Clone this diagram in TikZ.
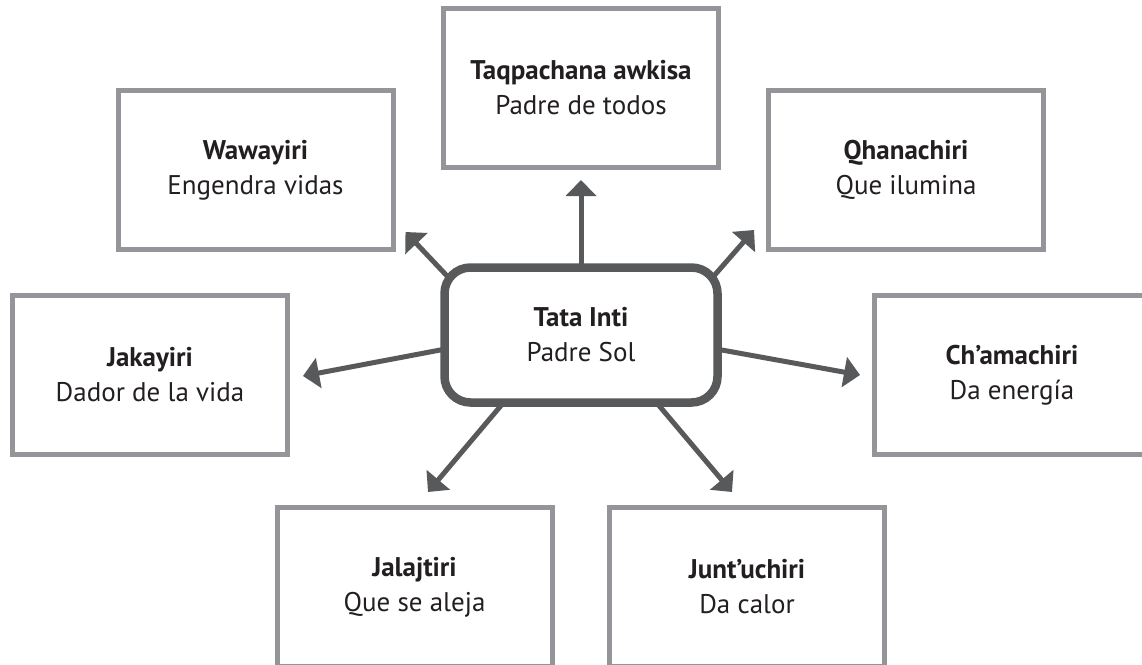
\documentclass[tikz,border=0pt]{standalone}
\usepackage{fontspec}
\setmainfont{PT Sans}
\usetikzlibrary{arrows.meta,calc,backgrounds}
\definecolor{boxgray}{HTML}{939598}
\definecolor{sungray}{HTML}{58595B}
\definecolor{inkblack}{HTML}{231F20}
\newcommand{\nombre}[2]{\textbf{#1}\\#2}
\begin{document}
\begin{tikzpicture}[x=1pt,y=-1pt,
    every node/.style={align=center,text=inkblack,font=\fontsize{27}{35}\selectfont},
    nombrebox/.style={draw=boxgray,line width=5pt,fill=white,minimum width=275pt,minimum height=159pt},
    intibox/.style={draw=sungray,line width=8.5pt,fill=white,rounded corners=26pt,minimum width=273pt,minimum height=135pt},
    rayo/.style={draw=sungray,line width=5pt,shorten <=-8pt,-{Triangle[length=16pt,width=30pt]}}]
\clip (0,0) rectangle (1142,664);
\node[intibox] (inti) at (581,335) {\nombre{Tata Inti}{Padre Sol}};
\node[nombrebox] (taq) at (581,88) {\nombre{Taqpachana awkisa}{Padre de todos}};
\node[nombrebox] (waw) at (255.5,170) {\nombre{Wawayiri}{Engendra vidas}};
\node[nombrebox] (qha) at (906,170) {\nombre{Qhanachiri}{Que ilumina}};
\node[nombrebox] (jak) at (150,375) {\nombre{Jakayiri}{Dador de la vida}};
\node[nombrebox] (cha) at (1012,375) {\nombre{Ch’amachiri}{Da energía}};
\node[nombrebox] (jal) at (414.5,587) {\nombre{Jalajtiri}{Que se aleja}};
\node[nombrebox] (jun) at (747,587) {\nombre{Junt’uchiri}{Da calor}};
\begin{scope}[on background layer]
\draw[rayo] (inti.north) -- ($(taq.south)+(0,10)$);
\draw[rayo] ($(inti.north west)+(8,14)$) -- ($(waw.south east)+(10,-20)$);
\draw[rayo] ($(inti.north east)+(-9,14)$) -- ($(qha.south west)+(-12,-22)$);
\draw[rayo] ($(inti.west)+(0,15)$) -- ($(jak.east)+(13,1)$);
\draw[rayo] ($(inti.east)+(0,15)$) -- ($(cha.west)+(-12,0)$);
\draw[rayo] ($(inti.south)+(-81,0)$) -- ($(jal.north)+(13.5,-13)$);
\draw[rayo] ($(inti.south)+(79,0)$) -- ($(jun.north)+(-15,-13)$);
\end{scope}
\end{tikzpicture}
\end{document}
